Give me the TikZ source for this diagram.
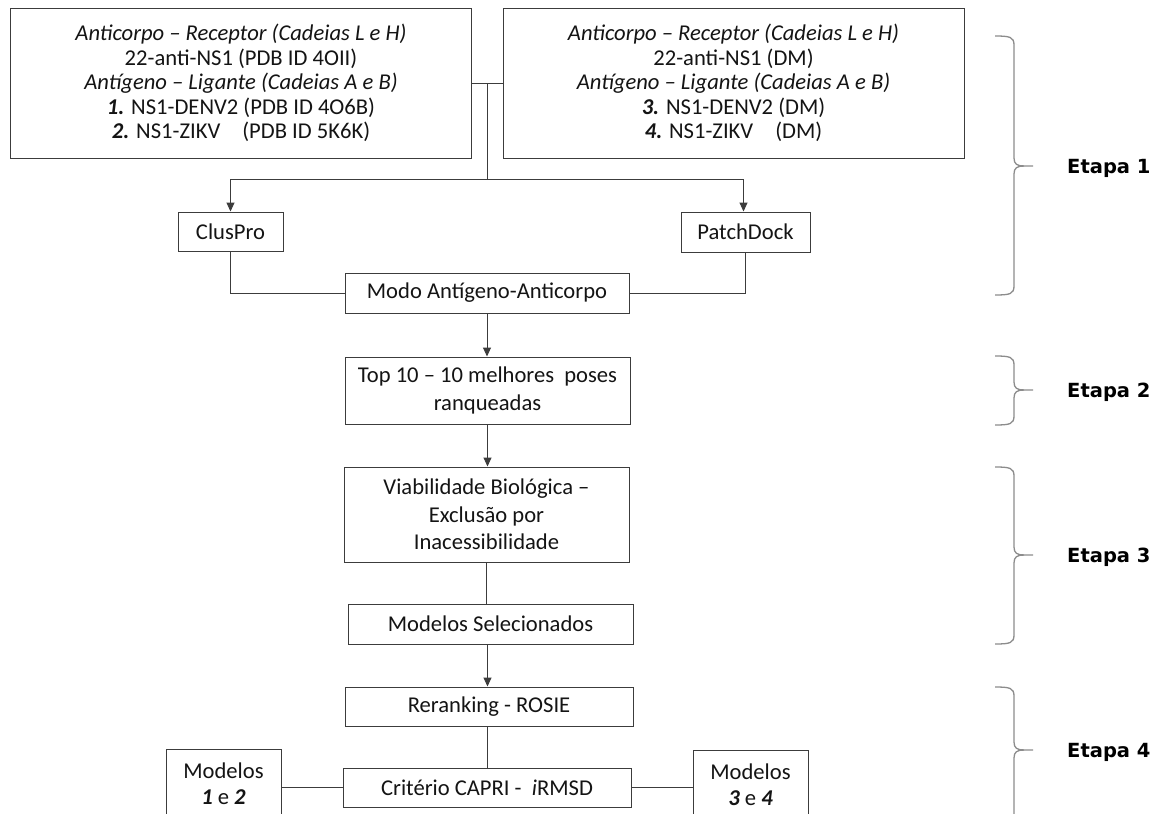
\documentclass[tikz,border=0pt]{standalone}
\usepackage{fontspec}
\setmainfont{Carlito}
\newfontfamily\etapafont{DejaVu Sans}
\usetikzlibrary{arrows.meta}
\definecolor{linec}{HTML}{3C3C3C}
\definecolor{bracec}{HTML}{8C8C8C}
\definecolor{txtc}{HTML}{141414}
\newcommand{\mybrace}[3]{%
 \draw[brc] (995,#1) .. controls (1010,#1) and (1014,{#1+1}) .. (1014,{#1+9}) -- (1014,{#2-8}) .. controls (1014,{#2-2}) and (1017,#2) .. (1024,#2) -- (1033,#2);
 \draw[brc] (1024,#2) .. controls (1017,#2) and (1014,{#2+2}) .. (1014,{#2+8}) -- (1014,{#3-9}) .. controls (1014,{#3-1}) and (1010,#3) .. (995,#3);}
\begin{document}
\begin{tikzpicture}[x=1pt,y=-1pt,
  box/.style={draw=linec, line width=1pt, text=txtc, align=center, inner sep=0pt, font=\fontsize{22.6}{27.5}\selectfont},
  topbox/.style={box, font=\fontsize{22.6}{24.5}\selectfont, minimum width=461pt, minimum height=150pt},
  arr/.style={-{Triangle[length=9pt,width=8pt]}, draw=linec, line width=1pt},
  ln/.style={draw=linec, line width=1pt},
  brc/.style={draw=bracec, line width=1.3pt},
  etapa/.style={font=\etapafont\bfseries\fontsize{19.5}{22}\selectfont, text=black, anchor=base west, inner sep=0pt}]
\useasboundingbox (0,0) rectangle (1160,814);
\clip (0,0) rectangle (1160,814);
\fill[white] (0,0) rectangle (1160,814);

\node[topbox] (b1) at (241,83) {\textit{Anticorpo – Receptor (Cadeias L e H)}\\22-anti-NS1 (PDB ID 4OII)\\\textit{Antígeno – Ligante (Cadeias A e B)}\\\textbf{\textit{1.}} NS1-DENV2 (PDB ID 4O6B)\\\textbf{\textit{2.}} NS1-ZIKV\hspace{22pt}(PDB ID 5K6K)};
\node[topbox] (b2) at (733.5,83) {\textit{Anticorpo – Receptor (Cadeias L e H)}\\22-anti-NS1 (DM)\\\textit{Antígeno – Ligante (Cadeias A e B)}\\\textbf{\textit{3.}} NS1-DENV2 (DM)\\\textbf{\textit{4.}} NS1-ZIKV\hspace{22pt}(DM)};

\node[box, minimum width=105pt, minimum height=39pt] (cp) at (230.5,231.5) {ClusPro};
\node[box, minimum width=129pt, minimum height=40pt] (pd) at (745.5,232) {PatchDock};
\node[box, minimum width=284pt, minimum height=40pt] (modo) at (487,293) {Modo Antígeno-Anticorpo};
\node[box, minimum width=285pt, minimum height=67pt] (top) at (487.5,390.5) {Top 10 – 10 melhores\ \ poses\\ranqueadas};
\node[box, minimum width=285pt, minimum height=95pt] (viab) at (486.5,514.5) {Viabilidade Biológica –\\Exclusão por\\Inacessibilidade};
\node[box, minimum width=285pt, minimum height=40pt] (msel) at (490.5,624) {Modelos Selecionados};
\node[box, minimum width=288pt, minimum height=39pt] (rer) at (489,706.5) {Reranking - ROSIE};
\node[box, minimum width=288pt, minimum height=39pt] (cap) at (487,787.5) {Critério CAPRI -\ \ \textit{i}RMSD};
\node[box, minimum width=115pt, minimum height=70pt, font=\fontsize{22.6}{26}\selectfont] (m12) at (223.5,784) {Modelos\\\textbf{\textit{1}} e \textbf{\textit{2}}};
\node[box, minimum width=115pt, minimum height=70pt, font=\fontsize{22.6}{26}\selectfont] (m34) at (750.5,785) {Modelos\\\textbf{\textit{3}} e \textbf{\textit{4}}};

\coordinate (j) at (487,83);
\coordinate (k) at (487,179);
\draw[ln] (b1.east) -- (b2.west);
\draw[ln] (j) -- (k);
\draw[arr] (k) -| (cp.north);
\draw[arr] (k) -| ([xshift=-2pt]pd.north);
\draw[ln] (cp.south) |- (modo.west);
\draw[ln] (pd.south) |- (modo.east);
\draw[arr] (modo.south) -- (modo.south |- top.north);
\draw[arr] (top.south) -- (top.south |- viab.north);
\draw[ln] (viab.south) -- (viab.south |- msel.north);
\draw[arr] ([xshift=-3pt]msel.south) -- ([xshift=-3pt]msel.south |- rer.north);
\draw[ln] (cap.north) -- (cap.north |- rer.south);
\draw[ln] ([yshift=0.5pt]cap.west) -- ([yshift=0.5pt]cap.west -| m12.east);
\draw[ln] ([yshift=0.5pt]cap.east) -- ([yshift=0.5pt]cap.east -| m34.west);

\mybrace{36}{166}{295}
\mybrace{356}{390}{425}
\mybrace{467}{555}{644}
\draw[brc] (995,687) .. controls (1010,687) and (1014,688) .. (1014,696) -- (1014,742) .. controls (1014,748) and (1017,750) .. (1024,750) -- (1033,750);
\draw[brc] (1024,750) .. controls (1017,750) and (1014,752) .. (1014,758) -- (1014,830);

\node[etapa] (e1) at (1067,173) {Etapa 1};
\node[etapa] (e2) at (1067,397) {Etapa 2};
\node[etapa] (e3) at (1067,562) {Etapa 3};
\node[etapa] (e4) at (1067,757) {Etapa 4};
\end{tikzpicture}
\end{document}
